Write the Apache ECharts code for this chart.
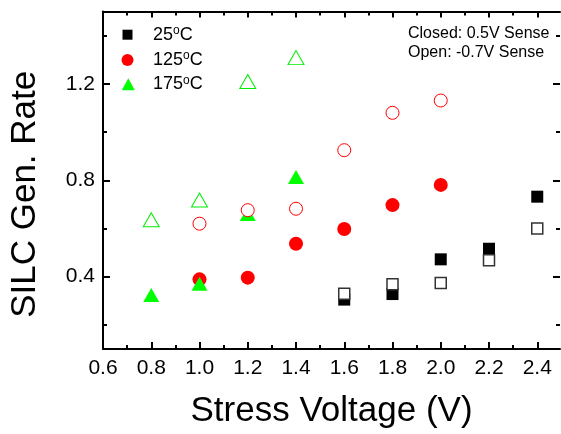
<!DOCTYPE html>
<html><head><meta charset="utf-8">
<script src="https://cdn.jsdelivr.net/npm/echarts@6/dist/echarts.min.js"></script>
<style>html,body{margin:0;padding:0;background:#fff}#c{width:561px;height:434px}</style>
</head><body><div id="c"></div>
<script>
// ---- data ----
const xMajor = [0.6, 0.8, 1.0, 1.2, 1.4, 1.6, 1.8, 2.0, 2.2, 2.4];
const xMinor = [0.7, 0.9, 1.1, 1.3, 1.5, 1.7, 1.9, 2.1, 2.3];
const yMajor = [0.4, 0.8, 1.2];
const yMinor = [0.2, 0.6, 1.0, 1.4];

const v25 = [1.6, 1.8, 2.0, 2.2, 2.4];
const closed25 = [0.305, 0.328, 0.472, 0.516, 0.732];
const open25 = [0.329, 0.369, 0.374, 0.468, 0.600];

const v125 = [1.0, 1.2, 1.4, 1.6, 1.8, 2.0];
const closed125 = [0.389, 0.396, 0.537, 0.598, 0.697, 0.781];
const open125 = [0.620, 0.676, 0.682, 0.925, 1.080, 1.131];

const v175 = [0.8, 1.0, 1.2, 1.4];
const closed175 = [0.324, 0.371, 0.660, 0.814];
const open175 = [0.636, 0.718, 1.210, 1.309];

const tempNames = ['25', '125', '175'];
const noteLines = ['Closed: 0.5V Sense', 'Open: -0.7V Sense'];
const xTitle = 'Stress Voltage (V)';
const yTitle = 'SILC Gen. Rate';

// ---- chart ----
const FONT = "'Liberation Sans', Arial, sans-serif";
const GRID_W = 457;
const X_MIN = 0.6, X_MAX = 0.6 + GRID_W / 241.25, Y_MIN = 0.1, Y_MAX = 1.5;
const pair = (xs, ys) => xs.map((x, i) => [x, ys[i]]);

function tickAxis(kind, pos, values, len, withLine) {
  const isX = kind === 'x';
  return {
    type: 'value', position: pos,
    min: isX ? X_MIN : Y_MIN, max: isX ? X_MAX : Y_MAX,
    splitLine: { show: false },
    axisLabel: { show: false },
    axisLine: { show: !!withLine, onZero: false, lineStyle: { color: '#000', width: 2 } },
    axisTick: { show: true, inside: true, length: len, customValues: values,
                lineStyle: { color: '#000', width: 2 } }
  };
}

const xMain = tickAxis('x', 'bottom', xMajor, 7, true);
xMain.axisLabel = { show: true, customValues: xMajor, margin: 9,
  formatter: v => v.toFixed(1), color: '#000', fontSize: 21, fontFamily: FONT };
xMain.name = xTitle; xMain.nameLocation = 'middle'; xMain.nameGap = 45;
xMain.nameTextStyle = { color: '#000', fontSize: 35, fontFamily: FONT };

const yMain = tickAxis('y', 'left', yMajor, 7, true);
yMain.axisLabel = { show: true, customValues: yMajor, margin: 8,
  formatter: v => v.toFixed(1), color: '#000', fontSize: 21, fontFamily: FONT };
yMain.name = yTitle; yMain.nameLocation = 'middle'; yMain.nameGap = 60;
yMain.nameTextStyle = { color: '#000', fontSize: 35, fontFamily: FONT, padding: [0, 28, 0, 0] };

const supRich = {
  a: { fontSize: 18, lineHeight: 20, fontFamily: FONT, color: '#000' },
  s: { fontSize: 12, lineHeight: 12, fontFamily: FONT, color: '#000', verticalAlign: 'top' }
};
function legendFor(name, icon, w, h, left, top, pad) {
  return {
    data: [{ name: name, icon: icon }], left: left, top: top, orient: 'vertical',
    itemWidth: w, itemHeight: h, selectedMode: false, padding: 0,
    formatter: n => '{a|' + n + '}{s|o}{a|C}',
    textStyle: { padding: [0, 0, 0, pad], rich: supRich }
  };
}

const closedStyles = [
  { symbol: 'rect', size: 12, color: '#000' },
  { symbol: 'circle', size: 14, color: '#ff0000' },
  { symbol: 'triangle', size: [16, 14], color: '#00ff00' }
];
const openStyles = [
  { symbol: 'rect', size: 11, color: '#333333', bw: 1.5 },
  { symbol: 'circle', size: 13, color: '#ff0000', bw: 1 },
  { symbol: 'triangle', size: [16, 14], color: '#00ee00', bw: 1 }
];
const xs = [v25, v125, v175];
const closedY = [closed25, closed125, closed175];
const openY = [open25, open125, open175];

const series = [];
for (let i = 0; i < 3; i++) {
  series.push({
    type: 'scatter', name: tempNames[i], xAxisIndex: 0, yAxisIndex: 0,
    data: pair(xs[i], closedY[i]), symbol: closedStyles[i].symbol,
    symbolSize: closedStyles[i].size, itemStyle: { color: closedStyles[i].color, opacity: 1 }
  });
}
for (let i = 0; i < 3; i++) {
  series.push({
    type: 'scatter', name: 'open' + tempNames[i], xAxisIndex: 0, yAxisIndex: 0,
    data: pair(xs[i], openY[i]), symbol: openStyles[i].symbol,
    symbolSize: openStyles[i].size,
    itemStyle: { color: '#fff', borderColor: openStyles[i].color, borderWidth: openStyles[i].bw, opacity: 1 }
  });
}

const rightMajor = tickAxis('y', 'right', yMajor, 7, false);
const chart = echarts.init(document.getElementById('c'), null, { renderer: 'canvas' });
chart.setOption({
  animation: false,
  backgroundColor: '#fff',
  grid: { left: 103, top: 11.6, width: GRID_W, height: 342.5, containLabel: false },
  xAxis: [
    xMain,
    tickAxis('x', 'bottom', xMinor, 4, false),
    tickAxis('x', 'top', xMajor, 6, true),
    tickAxis('x', 'top', xMinor, 4, false)
  ],
  yAxis: [
    yMain,
    tickAxis('y', 'left', yMinor, 4, false),
    rightMajor,
    tickAxis('y', 'right', yMinor, 4, false)
  ],
  legend: [
    legendFor(tempNames[0], 'rect', 10, 10, 122.5, 24.7, 15.5),
    legendFor(tempNames[1], 'circle', 12, 12, 121.5, 50, 14.5),
    legendFor(tempNames[2], 'triangle', 13, 12, 121.8, 74.2, 13.2)
  ],
  graphic: [{
    type: 'text', left: 408, top: 24,
    style: { text: noteLines.join('\n'), fill: '#000', font: '16px ' + FONT, lineHeight: 19.3 }
  }],
  series: series
});
</script></body></html>
